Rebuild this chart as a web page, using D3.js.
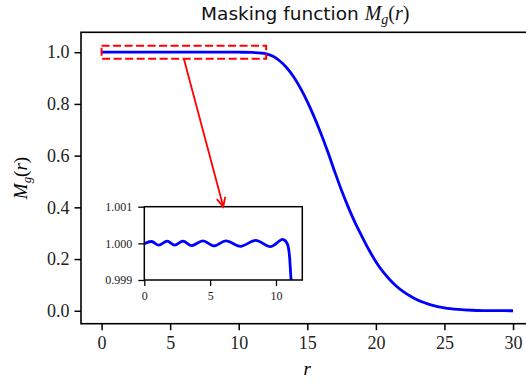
<!DOCTYPE html>
<html><head><meta charset="utf-8">
<script src="https://cdn.jsdelivr.net/npm/d3@7"></script>
<style>body{margin:0;background:#fff}svg{display:block}</style>
</head><body>
<svg id="c" width="526" height="387"></svg>
<script>
// ---- data ----
const rValues = [0, 2, 4, 6, 8, 10, 11, 12, 12.5, 13, 13.5, 14, 14.5, 15, 15.5, 16, 16.5, 17, 17.5, 18, 18.5, 19, 19.5, 20, 20.5, 21, 21.5, 22, 22.5, 23, 23.5, 24, 25, 26, 27, 28, 29, 30];
const mValues = [1, 1, 1, 1, 1, 1, 0.999, 0.994, 0.984, 0.966, 0.940, 0.905, 0.861, 0.809, 0.750, 0.685, 0.614, 0.538, 0.465, 0.399, 0.339, 0.286, 0.235, 0.190, 0.152, 0.121, 0.095, 0.074, 0.057, 0.043, 0.032, 0.023, 0.011, 0.005, 0.002, 0.0008, 0.0003, 0.0001];
const insetR = [0, 0.56, 1.1, 1.74, 2.3, 2.94, 3.6, 4.45, 5.3, 6.2, 7.3, 8.47, 9.6, 10.5, 10.85, 11.15, 11.4];
const insetM = [0.99999, 1.00005, 0.99995, 1.00006, 0.99995, 1.00006, 0.99994, 1.00007, 0.99993, 1.00007, 0.99992, 1.00008, 0.99991, 1.00011, 1.0, 0.999, 0.998];
const xTicks = [0, 5, 10, 15, 20, 25, 30];
const yTicks = [0.0, 0.2, 0.4, 0.6, 0.8, 1.0];
const insetXTicks = [0, 5, 10];
const insetYTicks = [0.999, 1.000, 1.001];
const zoomRectX = [0, 12];
const zoomRectY = [0.975, 1.025];
const arrowFrom = [6, 0.975];   // main-axes coords
const arrowTo = [6, 1.001];     // inset-axes coords

const svg = d3.select('#c');
const M = {l: 81, t: 32.3, r: 533.6, b: 323.7};
const x = d3.scaleLinear().domain([-1.5, 31.5]).range([M.l, M.r]);
const y = d3.scaleLinear().domain([-0.05, 1.077]).range([M.b, M.t]);

const serif = "'Liberation Serif', 'DejaVu Serif', serif";

// main curve
svg.append('path')
  .datum(d3.zip(rValues, mValues))
  .attr('d', d3.line().x(d => x(d[0])).y(d => y(d[1])).curve(d3.curveCatmullRom.alpha(0.5)))
  .attr('fill', 'none').attr('stroke', '#0000ff').attr('stroke-width', 2.8)
  .attr('stroke-linejoin', 'round');

// zoom rectangle
svg.append('rect')
  .attr('x', x(zoomRectX[0])).attr('y', y(zoomRectY[1]))
  .attr('width', x(zoomRectX[1]) - x(zoomRectX[0]))
  .attr('height', y(zoomRectY[0]) - y(zoomRectY[1]))
  .attr('fill', 'none').attr('stroke', '#ff0000').attr('stroke-width', 2)
  .attr('stroke-dasharray', '8,3.5');

// axes
const xAxis = d3.axisBottom(x).tickValues(xTicks).tickSize(6.5).tickPadding(6).tickFormat(d3.format('d'));
const gx = svg.append('g').attr('transform', `translate(0,${M.b})`).call(xAxis);
const yAxis = d3.axisLeft(y).tickValues(yTicks).tickSize(6.5).tickPadding(5).tickFormat(d3.format('.1f'));
const gy = svg.append('g').attr('transform', `translate(${M.l},0)`).call(yAxis);
[gx, gy].forEach(g => {
  g.select('.domain').remove();
  g.selectAll('.tick line').attr('stroke', '#000').attr('stroke-width', 1.5);
  g.selectAll('.tick text').attr('font-family', serif).attr('font-size', 18).attr('fill', '#222');
});
// spines
svg.append('rect').attr('x', M.l).attr('y', M.t).attr('width', M.r - M.l).attr('height', M.b - M.t)
  .attr('fill', 'none').attr('stroke', '#000').attr('stroke-width', 1.6);

// labels
svg.append('text').attr('x', (M.l + M.r) / 2).attr('y', 375).attr('text-anchor', 'middle')
  .attr('font-family', serif).attr('font-style', 'italic').attr('font-size', 19).text('r');
const yl = svg.append('text').attr('transform', `translate(27,${(M.t + M.b) / 2}) rotate(-90)`)
  .attr('text-anchor', 'middle').attr('font-family', serif).attr('font-style', 'italic').attr('font-size', 19);
yl.append('tspan').text('M');
yl.append('tspan').attr('font-size', 13).attr('dy', 4).text('g');
yl.append('tspan').attr('dy', -4).attr('font-style', 'normal').text('(');
yl.append('tspan').text('r');
yl.append('tspan').attr('font-style', 'normal').text(')');

const title = svg.append('text').attr('x', (M.l + M.r) / 2 - 2).attr('y', 19.5).attr('text-anchor', 'middle')
  .attr('font-size', 18.5).attr('fill', '#111');
title.append('tspan').attr('font-family', "'DejaVu Sans', sans-serif").text('Masking function ');
title.append('tspan').attr('font-family', serif).attr('font-style', 'italic').attr('font-size', 20).text('M');
title.append('tspan').attr('font-family', serif).attr('font-style', 'italic').attr('font-size', 14).attr('dy', 4).text('g');
title.append('tspan').attr('font-family', serif).attr('font-size', 20).attr('dy', -4).text('(');
title.append('tspan').attr('font-family', serif).attr('font-style', 'italic').attr('font-size', 20).text('r');
title.append('tspan').attr('font-family', serif).attr('font-size', 20).text(')');

// inset
const I = {l: 144.3, t: 206.7, r: 302.3, b: 280};
const xi = d3.scaleLinear().domain([0, 12]).range([I.l, I.r]);
const yi = d3.scaleLinear().domain([0.999, 1.001]).range([I.b, I.t]);
svg.append('rect').attr('x', I.l).attr('y', I.t).attr('width', I.r - I.l).attr('height', I.b - I.t).attr('fill', '#fff');
svg.append('clipPath').attr('id', 'ic').append('rect')
  .attr('x', I.l).attr('y', I.t).attr('width', I.r - I.l).attr('height', I.b - I.t);
svg.append('path')
  .datum(d3.zip(insetR, insetM))
  .attr('clip-path', 'url(#ic)')
  .attr('d', d3.line().x(d => xi(d[0])).y(d => yi(d[1])).curve(d3.curveCatmullRom))
  .attr('fill', 'none').attr('stroke', '#0000ff').attr('stroke-width', 2.8);
const gxi = svg.append('g').attr('transform', `translate(0,${I.b})`)
  .call(d3.axisBottom(xi).tickValues(insetXTicks).tickSize(6).tickPadding(5).tickFormat(d3.format('d')));
const gyi = svg.append('g').attr('transform', `translate(${I.l},0)`)
  .call(d3.axisLeft(yi).tickValues(insetYTicks).tickSize(6).tickPadding(6).tickFormat(d3.format('.3f')));
[gxi, gyi].forEach(g => {
  g.select('.domain').remove();
  g.selectAll('.tick line').attr('stroke', '#000').attr('stroke-width', 1.3);
  g.selectAll('.tick text').attr('font-family', serif).attr('font-size', 12).attr('fill', '#222');
});
svg.append('rect').attr('x', I.l).attr('y', I.t).attr('width', I.r - I.l).attr('height', I.b - I.t)
  .attr('fill', 'none').attr('stroke', '#000').attr('stroke-width', 1.5);

// connection arrow
const ax0 = x(arrowFrom[0]), ay0 = y(arrowFrom[1]);
const ax1 = xi(arrowTo[0]), ay1 = yi(arrowTo[1]);
svg.append('line').attr('x1', ax0).attr('y1', ay0).attr('x2', ax1).attr('y2', ay1)
  .attr('stroke', '#ff0000').attr('stroke-width', 1.8);
const ang = Math.atan2(ay1 - ay0, ax1 - ax0);
const hl = 10, ha = 0.45;
svg.append('path')
  .attr('d', `M${ax1 - hl * Math.cos(ang - ha)},${ay1 - hl * Math.sin(ang - ha)}L${ax1},${ay1}L${ax1 - hl * Math.cos(ang + ha)},${ay1 - hl * Math.sin(ang + ha)}`)
  .attr('fill', 'none').attr('stroke', '#ff0000').attr('stroke-width', 1.8);
</script>
</body></html>
